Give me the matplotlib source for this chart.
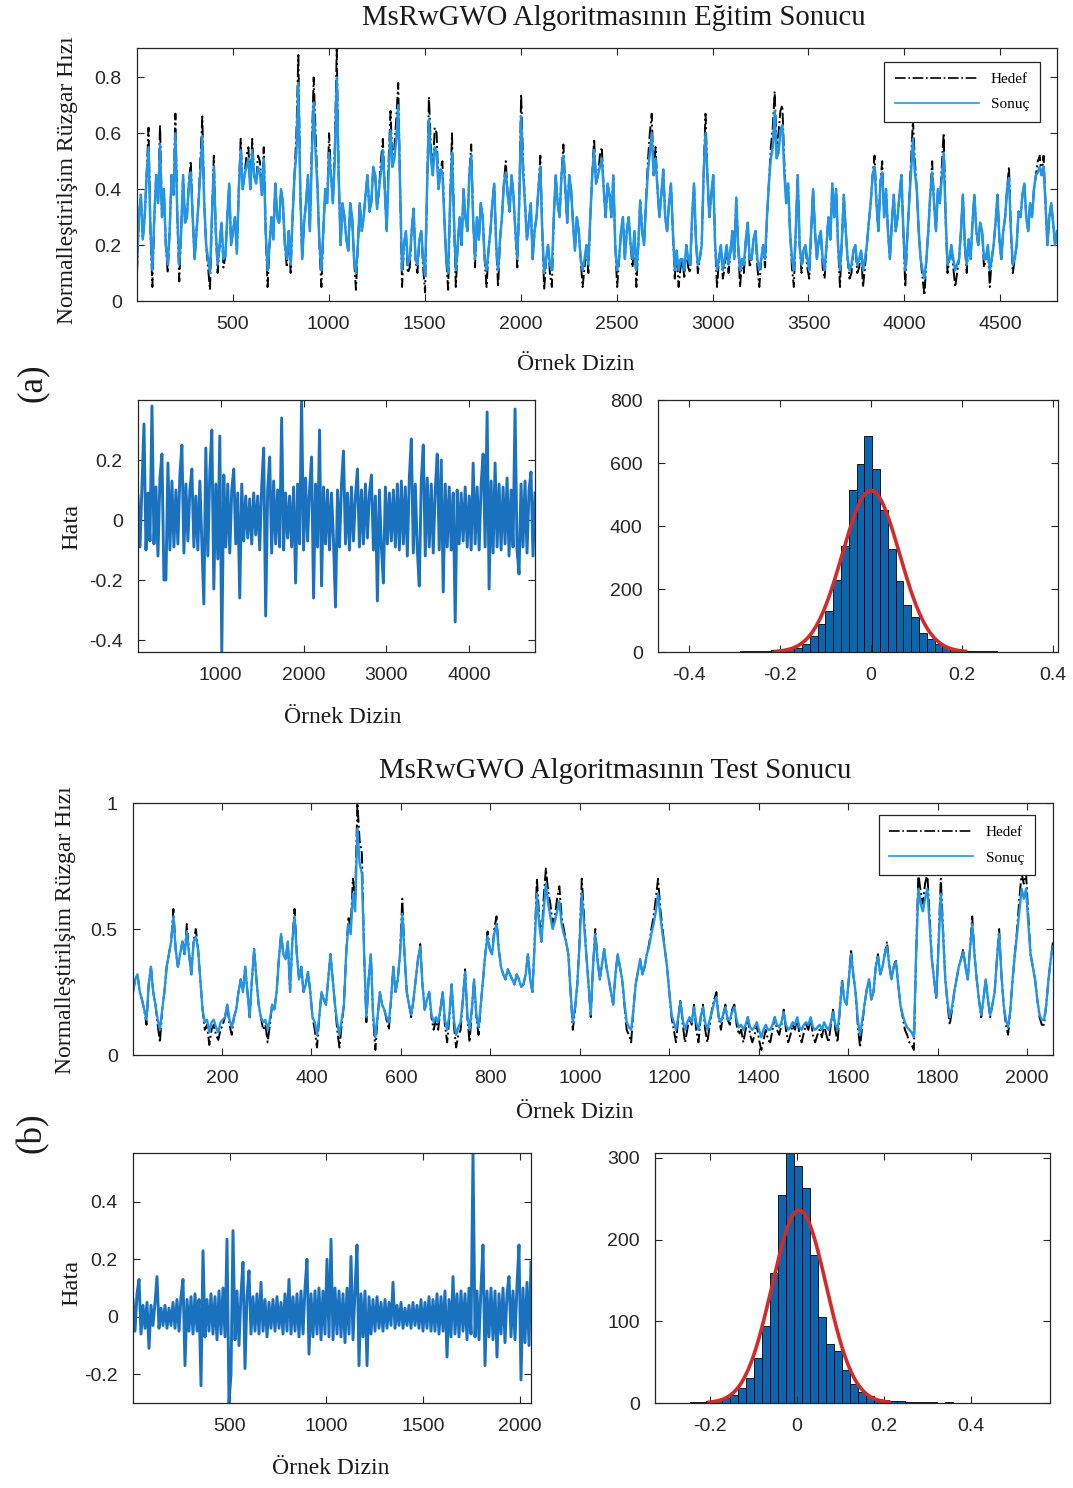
import numpy as np
import matplotlib
matplotlib.use("Agg")
import matplotlib.pyplot as plt
from matplotlib.ticker import FuncFormatter

# ---------------- data ----------------
N_TRAIN = 4795
N_TEST = 2058

train_target = [
    0.10, 0.30, 0.38, 0.22, 0.30, 0.45, 0.62, 0.25, 0.05, 0.30, 0.45, 0.35, 0.63, 0.30, 0.40, 0.20, 0.10, 0.25, 0.45, 0.38,
    0.67, 0.30, 0.07, 0.25, 0.45, 0.28, 0.30, 0.42, 0.50, 0.30, 0.15, 0.25, 0.35, 0.50, 0.66, 0.35, 0.20, 0.12, 0.04, 0.30,
    0.52, 0.25, 0.10, 0.20, 0.28, 0.12, 0.16, 0.30, 0.42, 0.20, 0.25, 0.30, 0.17, 0.40, 0.58, 0.40, 0.45, 0.52, 0.55, 0.40,
    0.58, 0.45, 0.42, 0.52, 0.50, 0.38, 0.55, 0.25, 0.05, 0.20, 0.30, 0.22, 0.42, 0.30, 0.28, 0.40, 0.35, 0.20, 0.12, 0.25,
    0.10, 0.30, 0.45, 0.60, 0.88, 0.40, 0.15, 0.28, 0.35, 0.45, 0.25, 0.55, 0.80, 0.60, 0.40, 0.20, 0.05, 0.25, 0.40, 0.35,
    0.60, 0.45, 0.35, 0.55, 0.90, 0.45, 0.20, 0.35, 0.30, 0.22, 0.18, 0.35, 0.30, 0.15, 0.04, 0.20, 0.35, 0.25, 0.30, 0.38,
    0.45, 0.32, 0.35, 0.48, 0.45, 0.33, 0.40, 0.50, 0.58, 0.40, 0.25, 0.50, 0.68, 0.48, 0.55, 0.65, 0.78, 0.40, 0.05, 0.20,
    0.25, 0.10, 0.12, 0.25, 0.33, 0.15, 0.10, 0.22, 0.25, 0.12, 0.03, 0.40, 0.73, 0.55, 0.45, 0.62, 0.60, 0.40, 0.47, 0.50,
    0.30, 0.15, 0.04, 0.35, 0.60, 0.30, 0.05, 0.20, 0.30, 0.20, 0.40, 0.30, 0.25, 0.45, 0.56, 0.30, 0.12, 0.30, 0.22, 0.35,
    0.30, 0.15, 0.05, 0.18, 0.25, 0.35, 0.42, 0.20, 0.05, 0.22, 0.30, 0.42, 0.50, 0.38, 0.32, 0.45, 0.38, 0.25, 0.12, 0.35,
    0.74, 0.50, 0.35, 0.22, 0.28, 0.35, 0.15, 0.25, 0.30, 0.40, 0.52, 0.25, 0.04, 0.15, 0.20, 0.10, 0.05, 0.30, 0.45, 0.35,
    0.30, 0.45, 0.56, 0.40, 0.28, 0.45, 0.40, 0.28, 0.18, 0.30, 0.25, 0.15, 0.05, 0.12, 0.20, 0.10, 0.30, 0.45, 0.58, 0.42,
    0.45, 0.52, 0.55, 0.40, 0.30, 0.42, 0.38, 0.30, 0.45, 0.20, 0.05, 0.15, 0.25, 0.30, 0.15, 0.25, 0.30, 0.20, 0.12, 0.25,
    0.05, 0.20, 0.36, 0.25, 0.20, 0.35, 0.50, 0.60, 0.67, 0.45, 0.55, 0.40, 0.30, 0.38, 0.47, 0.30, 0.25, 0.35, 0.42, 0.25,
    0.08, 0.18, 0.05, 0.12, 0.15, 0.08, 0.20, 0.12, 0.10, 0.30, 0.42, 0.22, 0.10, 0.15, 0.20, 0.45, 0.67, 0.45, 0.30, 0.38,
    0.45, 0.20, 0.05, 0.15, 0.20, 0.08, 0.12, 0.20, 0.10, 0.18, 0.25, 0.15, 0.37, 0.20, 0.05, 0.15, 0.10, 0.22, 0.28, 0.12,
    0.15, 0.22, 0.25, 0.12, 0.05, 0.15, 0.20, 0.12, 0.30, 0.42, 0.55, 0.62, 0.75, 0.55, 0.60, 0.68, 0.70, 0.50, 0.35, 0.42,
    0.25, 0.12, 0.05, 0.25, 0.45, 0.20, 0.10, 0.18, 0.20, 0.12, 0.08, 0.25, 0.40, 0.25, 0.15, 0.22, 0.25, 0.12, 0.08, 0.20,
    0.30, 0.22, 0.42, 0.30, 0.40, 0.20, 0.05, 0.22, 0.38, 0.25, 0.15, 0.08, 0.10, 0.18, 0.20, 0.10, 0.12, 0.18, 0.05, 0.12,
    0.20, 0.28, 0.35, 0.45, 0.52, 0.35, 0.25, 0.42, 0.50, 0.30, 0.40, 0.25, 0.15, 0.28, 0.38, 0.25, 0.30, 0.38, 0.45, 0.25,
    0.05, 0.22, 0.35, 0.50, 0.65, 0.50, 0.40, 0.25, 0.15, 0.08, 0.02, 0.15, 0.25, 0.38, 0.50, 0.35, 0.25, 0.40, 0.35, 0.48,
    0.60, 0.30, 0.10, 0.15, 0.20, 0.12, 0.05, 0.10, 0.15, 0.25, 0.38, 0.20, 0.10, 0.22, 0.15, 0.28, 0.38, 0.25, 0.20, 0.28,
    0.25, 0.12, 0.15, 0.20, 0.05, 0.15, 0.20, 0.28, 0.38, 0.22, 0.15, 0.25, 0.30, 0.40, 0.48, 0.25, 0.10, 0.15, 0.20, 0.32,
    0.30, 0.38, 0.42, 0.30, 0.25, 0.35, 0.30, 0.40, 0.45, 0.50, 0.52, 0.45, 0.52, 0.35, 0.20, 0.30, 0.35, 0.28, 0.20, 0.25,
]

train_output = [
    0.13, 0.30, 0.38, 0.22, 0.30, 0.45, 0.55, 0.25, 0.11, 0.30, 0.45, 0.35, 0.56, 0.30, 0.40, 0.20, 0.13, 0.25, 0.45, 0.38,
    0.60, 0.30, 0.13, 0.25, 0.45, 0.28, 0.30, 0.42, 0.46, 0.30, 0.15, 0.25, 0.35, 0.46, 0.59, 0.35, 0.20, 0.15, 0.10, 0.30,
    0.48, 0.25, 0.13, 0.20, 0.28, 0.15, 0.16, 0.30, 0.42, 0.20, 0.25, 0.30, 0.17, 0.40, 0.54, 0.40, 0.45, 0.48, 0.51, 0.40,
    0.54, 0.45, 0.42, 0.48, 0.46, 0.38, 0.51, 0.25, 0.11, 0.20, 0.30, 0.22, 0.42, 0.30, 0.28, 0.40, 0.35, 0.20, 0.15, 0.25,
    0.13, 0.30, 0.45, 0.53, 0.78, 0.40, 0.15, 0.28, 0.35, 0.45, 0.25, 0.51, 0.71, 0.53, 0.40, 0.20, 0.11, 0.25, 0.40, 0.35,
    0.53, 0.45, 0.35, 0.51, 0.80, 0.45, 0.20, 0.35, 0.30, 0.22, 0.18, 0.35, 0.30, 0.15, 0.10, 0.20, 0.35, 0.25, 0.30, 0.38,
    0.45, 0.32, 0.35, 0.48, 0.45, 0.33, 0.40, 0.46, 0.54, 0.40, 0.25, 0.46, 0.61, 0.48, 0.51, 0.58, 0.70, 0.40, 0.11, 0.20,
    0.25, 0.13, 0.15, 0.25, 0.33, 0.15, 0.13, 0.22, 0.25, 0.15, 0.09, 0.40, 0.65, 0.51, 0.45, 0.55, 0.53, 0.40, 0.47, 0.46,
    0.30, 0.15, 0.10, 0.35, 0.53, 0.30, 0.11, 0.20, 0.30, 0.20, 0.40, 0.30, 0.25, 0.45, 0.52, 0.30, 0.15, 0.30, 0.22, 0.35,
    0.30, 0.15, 0.11, 0.18, 0.25, 0.35, 0.42, 0.20, 0.11, 0.22, 0.30, 0.42, 0.46, 0.38, 0.32, 0.45, 0.38, 0.25, 0.15, 0.35,
    0.66, 0.46, 0.35, 0.22, 0.28, 0.35, 0.15, 0.25, 0.30, 0.40, 0.48, 0.25, 0.10, 0.15, 0.20, 0.13, 0.11, 0.30, 0.45, 0.35,
    0.30, 0.45, 0.52, 0.40, 0.28, 0.45, 0.40, 0.28, 0.18, 0.30, 0.25, 0.15, 0.11, 0.15, 0.20, 0.13, 0.30, 0.45, 0.54, 0.42,
    0.45, 0.48, 0.51, 0.40, 0.30, 0.42, 0.38, 0.30, 0.45, 0.20, 0.11, 0.15, 0.25, 0.30, 0.15, 0.25, 0.30, 0.20, 0.15, 0.25,
    0.11, 0.20, 0.36, 0.25, 0.20, 0.35, 0.46, 0.53, 0.60, 0.45, 0.51, 0.40, 0.30, 0.38, 0.47, 0.30, 0.25, 0.35, 0.42, 0.25,
    0.11, 0.18, 0.11, 0.15, 0.15, 0.11, 0.20, 0.15, 0.13, 0.30, 0.42, 0.22, 0.13, 0.15, 0.20, 0.45, 0.60, 0.45, 0.30, 0.38,
    0.45, 0.20, 0.11, 0.15, 0.20, 0.11, 0.15, 0.20, 0.13, 0.18, 0.25, 0.15, 0.37, 0.20, 0.11, 0.15, 0.13, 0.22, 0.28, 0.15,
    0.15, 0.22, 0.25, 0.15, 0.11, 0.15, 0.20, 0.15, 0.30, 0.42, 0.51, 0.55, 0.68, 0.51, 0.53, 0.61, 0.63, 0.46, 0.35, 0.42,
    0.25, 0.15, 0.11, 0.25, 0.45, 0.20, 0.13, 0.18, 0.20, 0.15, 0.11, 0.25, 0.40, 0.25, 0.15, 0.22, 0.25, 0.15, 0.11, 0.20,
    0.30, 0.22, 0.42, 0.30, 0.40, 0.20, 0.11, 0.22, 0.38, 0.25, 0.15, 0.11, 0.13, 0.18, 0.20, 0.13, 0.15, 0.18, 0.11, 0.15,
    0.20, 0.28, 0.35, 0.45, 0.48, 0.35, 0.25, 0.42, 0.46, 0.30, 0.40, 0.25, 0.15, 0.28, 0.38, 0.25, 0.30, 0.38, 0.45, 0.25,
    0.11, 0.22, 0.35, 0.46, 0.58, 0.46, 0.40, 0.25, 0.15, 0.11, 0.08, 0.15, 0.25, 0.38, 0.46, 0.35, 0.25, 0.40, 0.35, 0.44,
    0.53, 0.30, 0.13, 0.15, 0.20, 0.15, 0.11, 0.13, 0.15, 0.25, 0.38, 0.20, 0.13, 0.22, 0.15, 0.28, 0.38, 0.25, 0.20, 0.28,
    0.25, 0.15, 0.15, 0.20, 0.11, 0.15, 0.20, 0.28, 0.38, 0.22, 0.15, 0.25, 0.30, 0.40, 0.44, 0.25, 0.13, 0.15, 0.20, 0.32,
    0.30, 0.38, 0.42, 0.30, 0.25, 0.35, 0.30, 0.40, 0.45, 0.46, 0.48, 0.45, 0.48, 0.35, 0.20, 0.30, 0.35, 0.28, 0.20, 0.25,
]

train_error = [
    0.08, -0.09, 0.12, 0.32, -0.10, 0.09, -0.07, 0.38, -0.08, 0.11,
    -0.12, 0.14, 0.22, -0.20, -0.20, 0.19, -0.10, 0.13, -0.09, 0.10,
    -0.08, 0.15, 0.25, -0.11, 0.12, -0.07, 0.10, 0.17, -0.09, 0.08,
    -0.10, 0.13, -0.08, -0.28, 0.24, -0.12, 0.16, 0.30, -0.23, 0.12,
    -0.13, 0.28, -0.44, 0.15, -0.09, 0.12, -0.11, 0.10, 0.17, -0.08,
    0.09, -0.26, 0.12, -0.07, 0.08, -0.06, 0.07, -0.08, 0.09, -0.05,
    0.08, -0.10, 0.11, 0.24, -0.32, 0.10, 0.21, -0.11, 0.13, -0.08,
    0.10, -0.09, 0.34, -0.10, 0.09, -0.06, 0.08, -0.09, 0.11, -0.21,
    0.12, -0.08, 0.40, -0.10, 0.14, -0.07, 0.10, 0.21, -0.26, 0.12,
    -0.09, 0.30, -0.22, 0.11, -0.08, 0.10, -0.10, 0.09, -0.07, -0.29,
    0.10, -0.09, 0.12, 0.23, -0.08, 0.09, -0.10, 0.11, -0.07, 0.08,
    0.17, -0.09, 0.10, -0.08, 0.12, -0.06, 0.09, 0.15, -0.10, 0.08,
    -0.27, 0.10, -0.09, -0.21, 0.11, -0.08, 0.09, -0.07, 0.10, -0.09,
    0.12, -0.10, 0.13, -0.08, 0.11, -0.12, 0.14, 0.27, -0.11, 0.12,
    -0.10, -0.22, 0.13, 0.25, -0.12, 0.14, -0.09, 0.12, -0.11, 0.10,
    0.22, -0.10, 0.20, -0.24, 0.12, -0.09, 0.11, -0.10, 0.09, -0.34,
    0.10, -0.08, 0.09, -0.07, 0.11, -0.09, 0.08, -0.10, 0.19, -0.08,
    0.11, -0.10, 0.12, 0.22, -0.09, 0.36, -0.23, 0.13, -0.11, 0.19,
    -0.09, 0.12, -0.10, 0.11, -0.08, 0.14, -0.12, 0.10, -0.09, 0.37,
    -0.10, -0.18, 0.12, -0.09, 0.13, -0.11, 0.10, 0.16, -0.12, 0.09,
]

# histogram of training errors: first edge, bin width, counts
train_hist_start = -0.443
train_hist_width = 0.01714
train_hist_counts = [
    1, 0, 0, 0, 0, 1, 0, 1, 1, 2, 2, 3, 4, 5, 7, 9,
    14, 25, 50, 90, 129, 228, 336, 514, 596, 685, 580, 450, 326, 226,
    150, 111, 61, 42, 26, 16, 10, 6, 4, 3, 2, 2, 1, 1, 0, 1, 0, 1, 1,
]
train_fit_mu = 0.0
train_fit_sigma = 0.063

test_target = [
    0.25, 0.30, 0.32, 0.25, 0.22, 0.18, 0.12, 0.28, 0.35, 0.25, 0.20, 0.12, 0.05, 0.18, 0.25, 0.35, 0.40, 0.45, 0.58, 0.42,
    0.35, 0.40, 0.45, 0.40, 0.52, 0.40, 0.32, 0.45, 0.50, 0.42, 0.30, 0.18, 0.10, 0.12, 0.04, 0.10, 0.12, 0.08, 0.06, 0.10,
    0.12, 0.15, 0.20, 0.12, 0.08, 0.15, 0.18, 0.25, 0.30, 0.25, 0.35, 0.25, 0.15, 0.30, 0.42, 0.30, 0.20, 0.15, 0.10, 0.12,
    0.05, 0.12, 0.20, 0.18, 0.25, 0.38, 0.48, 0.40, 0.38, 0.45, 0.25, 0.45, 0.58, 0.40, 0.30, 0.35, 0.25, 0.28, 0.33, 0.25,
    0.15, 0.10, 0.03, 0.15, 0.25, 0.22, 0.20, 0.30, 0.40, 0.30, 0.20, 0.10, 0.03, 0.12, 0.20, 0.40, 0.55, 0.50, 0.70, 0.62,
    1.00, 0.85, 0.80, 0.40, 0.13, 0.30, 0.40, 0.15, 0.02, 0.15, 0.25, 0.20, 0.18, 0.14, 0.10, 0.22, 0.35, 0.25, 0.30, 0.40,
    0.62, 0.40, 0.25, 0.20, 0.15, 0.22, 0.30, 0.38, 0.44, 0.28, 0.18, 0.22, 0.25, 0.15, 0.10, 0.14, 0.10, 0.18, 0.25, 0.12,
    0.05, 0.15, 0.28, 0.12, 0.03, 0.08, 0.10, 0.22, 0.34, 0.15, 0.05, 0.18, 0.30, 0.15, 0.08, 0.20, 0.30, 0.40, 0.49, 0.42,
    0.40, 0.50, 0.55, 0.42, 0.35, 0.32, 0.30, 0.34, 0.32, 0.30, 0.28, 0.32, 0.30, 0.27, 0.28, 0.32, 0.40, 0.30, 0.25, 0.45,
    0.70, 0.55, 0.45, 0.62, 0.74, 0.65, 0.60, 0.52, 0.55, 0.62, 0.67, 0.55, 0.50, 0.45, 0.40, 0.25, 0.10, 0.18, 0.28, 0.45,
    0.70, 0.55, 0.40, 0.28, 0.15, 0.35, 0.50, 0.38, 0.30, 0.36, 0.42, 0.35, 0.30, 0.25, 0.20, 0.32, 0.40, 0.35, 0.30, 0.20,
    0.10, 0.08, 0.05, 0.18, 0.28, 0.33, 0.38, 0.32, 0.35, 0.40, 0.44, 0.50, 0.55, 0.62, 0.70, 0.58, 0.50, 0.42, 0.35, 0.25,
    0.15, 0.10, 0.05, 0.15, 0.22, 0.12, 0.05, 0.10, 0.15, 0.12, 0.20, 0.10, 0.05, 0.15, 0.20, 0.10, 0.05, 0.12, 0.18, 0.22,
    0.25, 0.15, 0.10, 0.16, 0.20, 0.14, 0.12, 0.18, 0.20, 0.12, 0.08, 0.10, 0.05, 0.10, 0.15, 0.08, 0.05, 0.08, 0.12, 0.06,
    0.02, 0.06, 0.10, 0.06, 0.05, 0.10, 0.15, 0.10, 0.08, 0.12, 0.18, 0.10, 0.05, 0.08, 0.12, 0.10, 0.15, 0.08, 0.05, 0.09,
    0.12, 0.10, 0.15, 0.08, 0.05, 0.08, 0.10, 0.07, 0.12, 0.08, 0.05, 0.12, 0.18, 0.10, 0.05, 0.18, 0.30, 0.22, 0.20, 0.30,
    0.42, 0.32, 0.25, 0.12, 0.03, 0.12, 0.20, 0.26, 0.30, 0.22, 0.25, 0.35, 0.40, 0.32, 0.35, 0.40, 0.45, 0.36, 0.30, 0.35,
    0.38, 0.28, 0.20, 0.15, 0.10, 0.08, 0.05, 0.04, 0.02, 0.40, 0.72, 0.65, 0.60, 0.68, 0.72, 0.55, 0.38, 0.30, 0.22, 0.45,
    0.70, 0.50, 0.30, 0.20, 0.12, 0.18, 0.25, 0.30, 0.35, 0.38, 0.42, 0.35, 0.30, 0.42, 0.55, 0.40, 0.30, 0.22, 0.15, 0.22,
    0.30, 0.22, 0.15, 0.20, 0.25, 0.38, 0.50, 0.32, 0.20, 0.12, 0.08, 0.18, 0.30, 0.40, 0.50, 0.62, 0.72, 0.68, 0.72, 0.55,
    0.40, 0.35, 0.30, 0.22, 0.15, 0.12, 0.12, 0.20, 0.30, 0.38, 0.45,
]

test_output = [
    0.25, 0.30, 0.32, 0.25, 0.22, 0.18, 0.14, 0.28, 0.35, 0.25, 0.20, 0.14, 0.10, 0.18, 0.25, 0.35, 0.40, 0.45, 0.55, 0.42,
    0.35, 0.40, 0.45, 0.40, 0.49, 0.40, 0.32, 0.45, 0.47, 0.42, 0.30, 0.18, 0.13, 0.14, 0.09, 0.13, 0.14, 0.11, 0.09, 0.13,
    0.14, 0.15, 0.20, 0.14, 0.11, 0.15, 0.18, 0.25, 0.30, 0.25, 0.35, 0.25, 0.15, 0.30, 0.42, 0.30, 0.20, 0.15, 0.13, 0.14,
    0.10, 0.14, 0.20, 0.18, 0.25, 0.38, 0.48, 0.40, 0.38, 0.45, 0.25, 0.45, 0.55, 0.40, 0.30, 0.35, 0.25, 0.28, 0.33, 0.25,
    0.15, 0.13, 0.08, 0.15, 0.25, 0.22, 0.20, 0.30, 0.40, 0.30, 0.20, 0.13, 0.08, 0.14, 0.20, 0.40, 0.52, 0.48, 0.64, 0.57,
    0.90, 0.76, 0.72, 0.40, 0.15, 0.30, 0.40, 0.16, 0.07, 0.15, 0.25, 0.20, 0.18, 0.15, 0.13, 0.22, 0.35, 0.25, 0.30, 0.40,
    0.56, 0.40, 0.25, 0.20, 0.16, 0.22, 0.30, 0.38, 0.43, 0.28, 0.18, 0.22, 0.25, 0.16, 0.13, 0.15, 0.13, 0.18, 0.25, 0.14,
    0.10, 0.16, 0.28, 0.14, 0.08, 0.11, 0.13, 0.22, 0.33, 0.16, 0.10, 0.18, 0.30, 0.16, 0.11, 0.20, 0.30, 0.40, 0.47, 0.42,
    0.40, 0.48, 0.52, 0.42, 0.35, 0.32, 0.30, 0.34, 0.32, 0.30, 0.28, 0.32, 0.30, 0.27, 0.28, 0.32, 0.40, 0.30, 0.25, 0.44,
    0.64, 0.52, 0.45, 0.57, 0.68, 0.60, 0.55, 0.50, 0.53, 0.57, 0.61, 0.52, 0.48, 0.45, 0.40, 0.25, 0.13, 0.19, 0.28, 0.44,
    0.64, 0.52, 0.40, 0.28, 0.16, 0.35, 0.48, 0.38, 0.30, 0.36, 0.42, 0.35, 0.30, 0.25, 0.20, 0.32, 0.40, 0.35, 0.30, 0.21,
    0.13, 0.11, 0.10, 0.18, 0.28, 0.33, 0.38, 0.32, 0.35, 0.40, 0.43, 0.48, 0.52, 0.57, 0.64, 0.55, 0.48, 0.42, 0.35, 0.25,
    0.16, 0.13, 0.10, 0.15, 0.21, 0.14, 0.10, 0.13, 0.15, 0.13, 0.19, 0.13, 0.10, 0.15, 0.19, 0.13, 0.10, 0.14, 0.17, 0.21,
    0.23, 0.15, 0.13, 0.16, 0.19, 0.14, 0.14, 0.17, 0.19, 0.14, 0.11, 0.12, 0.10, 0.12, 0.15, 0.11, 0.10, 0.11, 0.13, 0.10,
    0.07, 0.10, 0.12, 0.10, 0.10, 0.12, 0.15, 0.12, 0.11, 0.13, 0.17, 0.12, 0.10, 0.11, 0.13, 0.12, 0.15, 0.11, 0.10, 0.12,
    0.13, 0.12, 0.15, 0.11, 0.10, 0.11, 0.12, 0.10, 0.13, 0.11, 0.10, 0.13, 0.17, 0.12, 0.10, 0.18, 0.29, 0.22, 0.20, 0.30,
    0.40, 0.32, 0.25, 0.14, 0.08, 0.14, 0.20, 0.26, 0.30, 0.22, 0.25, 0.35, 0.39, 0.32, 0.35, 0.40, 0.43, 0.36, 0.30, 0.35,
    0.37, 0.28, 0.20, 0.16, 0.13, 0.11, 0.10, 0.09, 0.07, 0.40, 0.66, 0.60, 0.57, 0.62, 0.66, 0.52, 0.38, 0.30, 0.23, 0.44,
    0.64, 0.48, 0.30, 0.21, 0.15, 0.19, 0.25, 0.30, 0.35, 0.38, 0.41, 0.35, 0.30, 0.42, 0.52, 0.40, 0.30, 0.22, 0.16, 0.22,
    0.30, 0.22, 0.16, 0.20, 0.25, 0.38, 0.48, 0.32, 0.20, 0.14, 0.11, 0.18, 0.30, 0.40, 0.48, 0.57, 0.66, 0.62, 0.66, 0.52,
    0.40, 0.35, 0.30, 0.22, 0.16, 0.14, 0.14, 0.20, 0.30, 0.38, 0.43,
]

test_error = [
    0.06, -0.05, 0.08, 0.13, -0.06, 0.04, -0.04, 0.05, -0.11, 0.04,
    -0.03, 0.05, 0.14, -0.04, 0.03, -0.03, 0.04, -0.04, 0.03, -0.03,
    0.05, -0.04, 0.06, -0.05, 0.07, 0.13, -0.17, 0.06, -0.05, 0.07,
    -0.06, 0.08, -0.05, 0.06, -0.24, 0.23, -0.07, 0.06, -0.05, 0.08,
    -0.06, 0.07, -0.08, 0.09, -0.06, 0.10, -0.07, 0.27, -0.30, -0.20,
    0.30, -0.08, 0.09, -0.10, 0.08, 0.19, -0.18, 0.07, 0.16, -0.06,
    0.07, -0.05, 0.08, -0.06, 0.12, -0.05, 0.06, -0.07, 0.05, -0.04,
    0.06, -0.05, 0.07, -0.04, 0.05, -0.06, 0.08, -0.05, 0.13, -0.06,
    0.07, -0.05, 0.08, -0.07, 0.09, -0.06, 0.10, 0.20, -0.13, 0.08,
    -0.07, 0.09, -0.06, 0.10, -0.08, 0.09, -0.06, 0.20, -0.07, 0.27,
    -0.08, 0.10, -0.06, 0.09, -0.07, 0.08, -0.09, 0.10, -0.06, 0.21,
    -0.08, 0.09, 0.25, -0.17, 0.08, -0.07, 0.09, -0.17, 0.07, -0.06,
    0.06, -0.05, 0.07, -0.04, 0.05, -0.05, 0.06, -0.04, 0.05, -0.03,
    0.12, -0.04, 0.04, -0.03, 0.05, -0.04, 0.03, -0.03, 0.04, -0.04,
    0.05, -0.03, 0.04, -0.04, 0.06, -0.05, 0.05, -0.04, 0.07, -0.05,
    0.06, -0.05, 0.08, -0.06, 0.07, -0.05, 0.09, -0.14, 0.06, -0.07,
    0.14, -0.06, 0.08, -0.07, 0.09, -0.05, 0.08, -0.08, 0.10, -0.06,
    0.57, -0.07, 0.09, -0.08, 0.10, 0.25, -0.17, 0.09, -0.07, 0.10,
    -0.08, 0.09, -0.14, 0.08, -0.06, 0.10, -0.09, 0.08, 0.14, -0.07,
    0.09, -0.08, 0.11, 0.25, -0.22, 0.10, -0.09, 0.12, -0.10, 0.19,
]

test_hist_start = -0.30
test_hist_width = 0.0183
test_hist_counts = [
    0, 0, 0, 1, 1, 2, 4, 6, 10, 18, 30, 55, 94, 159, 255, 306,
    290, 263, 181, 105, 72, 64, 40, 23, 14, 8, 5, 4, 3, 2, 1, 1,
    1, 1, 0, 1, 0, 0, 0, 0, 0, 0, 0, 0, 0, 0, 0, 0,
]
test_fit_mu = 0.005
test_fit_sigma = 0.0625

# ---------------- styling ----------------
W, H = 1073, 1488
SERIF = "Liberation Serif"
SANS = "Liberation Sans"
INK = "#262626"
TXT = "#1a1a1a"
TARGET_C = "black"
OUTPUT_C = "#2196e8"
ERR_C = "#1a72bf"
BAR_C = "#0c66ad"
FIT_C = "#d42a2a"

plt.rcParams["font.family"] = SANS
plt.rcParams["axes.unicode_minus"] = False
fig = plt.figure(figsize=(W / 100, H / 100), dpi=100)
fig.patch.set_facecolor("white")

plain = FuncFormatter(lambda v, _: f"{v:g}")


def add_axes(left, top, right, bottom):
    return fig.add_axes([left / W, 1 - bottom / H, (right - left) / W, (bottom - top) / H])


def style(ax):
    for s in ax.spines.values():
        s.set_color(INK)
        s.set_linewidth(0.9)
    ax.tick_params(direction="in", top=True, right=True, length=5, width=0.8,
                   colors=INK, labelsize=14, pad=11)
    ax.xaxis.set_major_formatter(plain)
    ax.yaxis.set_major_formatter(plain)


def ftext(px, py, s, **kw):
    fig.text(px / W, 1 - py / H, s, ha="center", va="center", color=TXT, family=SERIF, **kw)


def series_panel(ax, target, output, n, ylim, yticks, xticks, anchor, lw_out):
    x_t = np.linspace(1, n, len(target))
    x_o = np.linspace(1, n, len(output))
    ax.plot(x_t, target, color=TARGET_C, lw=1.4, ls="-.", label="Hedef")
    ax.plot(x_o, output, color=OUTPUT_C, lw=lw_out, label="Sonuç")
    ax.set_xlim(1, n)
    ax.set_ylim(*ylim)
    ax.set_yticks(yticks)
    ax.set_xticks(xticks)
    style(ax)
    leg = ax.legend(loc="upper right", bbox_to_anchor=anchor, borderaxespad=0,
                    prop={"family": SERIF, "size": 11}, handlelength=5.5,
                    fancybox=False, framealpha=1, edgecolor=INK, borderpad=0.7,
                    labelspacing=0.75)
    for h in leg.get_lines():
        h.set_linewidth(1.2)
    leg.get_frame().set_linewidth(0.9)
    leg.set_zorder(5)


def error_panel(ax, err, n, xticks, yticks):
    x = np.linspace(1, n, len(err))
    ax.plot(x, err, color=ERR_C, lw=2.1)
    ax.set_xlim(1, n)
    ax.set_ylim(min(err), max(err))
    ax.set_xticks(xticks)
    ax.set_yticks(yticks)
    style(ax)


def hist_panel(ax, start, width, counts, mu, sigma, xlim, ylim, xticks, yticks):
    counts = np.asarray(counts, dtype=float)
    edges = start + width * np.arange(len(counts) + 1)
    ax.bar(edges[:-1], counts, width=width, align="edge", color=BAR_C,
           edgecolor="black", linewidth=0.6)
    total = counts.sum()
    xs = np.linspace(mu - 3.3 * sigma, mu + 3.3 * sigma, 300)
    pdf = np.exp(-0.5 * ((xs - mu) / sigma) ** 2) / (sigma * np.sqrt(2 * np.pi))
    ax.plot(xs, total * width * pdf, color=FIT_C, lw=2.6)
    ax.set_xlim(*xlim)
    ax.set_ylim(*ylim)
    ax.set_xticks(xticks)
    ax.set_yticks(yticks)
    style(ax)


# ---- (a) training ----
a1 = add_axes(137, 48, 1057, 301)
series_panel(a1, train_target, train_output, N_TRAIN, (0, 0.905),
             [0, 0.2, 0.4, 0.6, 0.8], np.arange(500, 4501, 500), (0.9815, 0.945), 1.8)

a2 = add_axes(138, 400, 535, 652)
error_panel(a2, train_error, N_TRAIN, [1000, 2000, 3000, 4000], [-0.4, -0.2, 0, 0.2])

a3 = add_axes(658, 400, 1058, 652)
hist_panel(a3, train_hist_start, train_hist_width, train_hist_counts,
           train_fit_mu, train_fit_sigma, (-0.468, 0.411), (0, 800),
           [-0.4, -0.2, 0, 0.2, 0.4], [0, 200, 400, 600, 800])

# ---- (b) test ----
b1 = add_axes(133, 803, 1053, 1055)
series_panel(b1, test_target, test_output, N_TEST, (0, 1.0),
             [0, 0.5, 1], np.arange(200, 2001, 200), (0.980, 0.952), 1.7)

b2 = add_axes(133, 1153, 531, 1403)
error_panel(b2, test_error, N_TEST, [500, 1000, 1500, 2000], [-0.2, 0, 0.2, 0.4])

b3 = add_axes(655, 1153, 1050, 1403)
hist_panel(b3, test_hist_start, test_hist_width, test_hist_counts,
           test_fit_mu, test_fit_sigma, (-0.326, 0.581), (0, max(test_hist_counts)),
           [-0.2, 0, 0.2, 0.4], [0, 100, 200, 300])

# ---- text ----
ftext(614, 18, "MsRwGWO Algoritmasının Eğitim Sonucu", fontsize=20.7)
ftext(576, 365, "Örnek Dizin", fontsize=17)
ftext(68, 180, "Normalleştirilşim Rüzgar Hızı", fontsize=17, rotation=90)
ftext(32, 383, "(a)", fontsize=25, rotation=90)
ftext(72, 527, "Hata", fontsize=17.5, rotation=90)
ftext(343, 717, "Örnek Dizin", fontsize=17)

ftext(615, 771, "MsRwGWO Algoritmasının Test Sonucu", fontsize=20.7)
ftext(575, 1113, "Örnek Dizin", fontsize=17)
ftext(66, 930, "Normalleştirilşim Rüzgar Hızı", fontsize=17, rotation=90)
ftext(32, 1133, "(b)", fontsize=25, rotation=90)
ftext(72, 1283, "Hata", fontsize=17.5, rotation=90)
ftext(331, 1468, "Örnek Dizin", fontsize=17)

fig.savefig("out.png", dpi=100, facecolor="white")
